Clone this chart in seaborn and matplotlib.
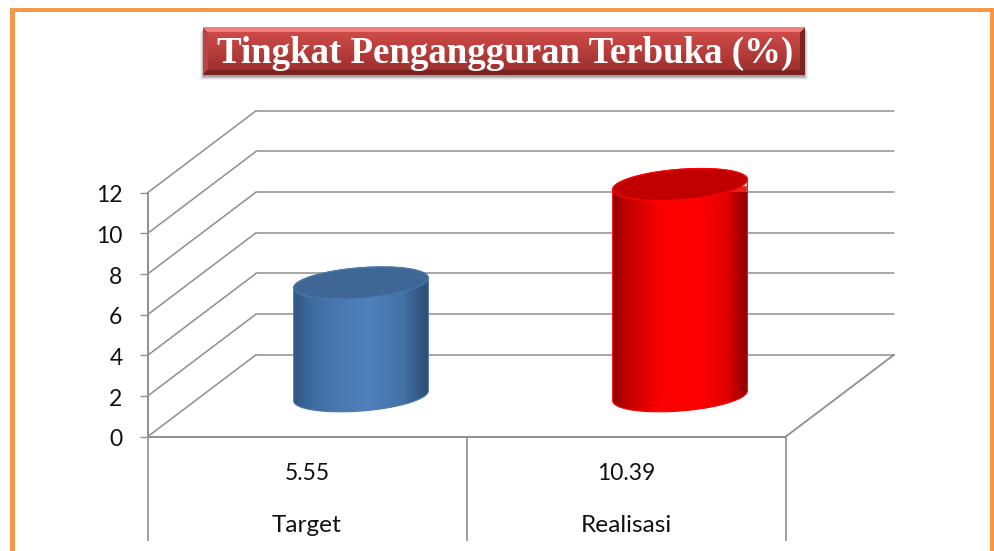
import numpy as np
import pandas as pd
import matplotlib
matplotlib.use("Agg")
import matplotlib.pyplot as plt
import seaborn as sns
from matplotlib.colors import LinearSegmentedColormap
from matplotlib.patches import Polygon, Rectangle
from matplotlib.transforms import ScaledTranslation

categories = ["Target", "Realisasi"]
values = [5.55, 10.39]
value_labels = ["5.55", "10.39"]
y_ticks = [0, 2, 4, 6, 8, 10, 12]
title = "Tingkat Pengangguran Terbuka (%)"

W, H, DPI = 994, 551, 100
sns.set_style("white")
plt.rcParams["font.family"] = ["Lato", "DejaVu Sans"]
GRID = "#8f8f8f"
ORANGE = "#f79646"

fig = plt.figure(figsize=(W / DPI, H / DPI), dpi=DPI, facecolor="white")
ax = fig.add_axes([147.5 / W, 1 - 436.8 / H, 638 / W, 244 / H])
ax.patch.set_alpha(0)

px_x = 638 / 2
px_y = 244 / 12


def shift(dx, dy):
    return ax.transData + ScaledTranslation(dx / DPI, -dy / DPI, fig.dpi_scale_trans)


back = shift(108.5, -82)
mid = shift(54, -41)

# walls and floor
for v in y_ticks:
    ax.plot([-0.5, 1.5], [v, v], transform=back, color=GRID, lw=1.1, zorder=1, clip_on=False)
    ax.plot([-0.5, -0.5 + 108.5 / px_x], [v, v + 82 / px_y], color=GRID, lw=1.1, zorder=1, clip_on=False)
ax.plot([1.5, 1.5 + 108.5 / px_x], [0, 82 / px_y], color=GRID, lw=1.3, zorder=1, clip_on=False)
ax.plot([-0.5, 1.5], [0, 0], color=GRID, lw=1.4, zorder=1, clip_on=False)
ax.plot([-0.5, -0.5], [0, 12], color=GRID, lw=1.4, zorder=1, clip_on=False)
ax.vlines([-0.5, 0.5, 1.5], -104 / px_y, 0, color=GRID, lw=1.2, zorder=1, clip_on=False)

# bars
df = pd.DataFrame({"kategori": categories, "nilai": values})
palette = {"Target": "#4f81bd", "Realisasi": "#ff0000"}
sns.barplot(data=df, x="kategori", y="nilai", hue="kategori", palette=palette,
            width=134 / px_x, legend=False, ax=ax, zorder=2)

grads = [
    [(0, "#2f5683"), (0.12, "#3d6a9e"), (0.35, "#4a79b2"), (0.55, "#4f81bd"), (0.8, "#4472a8"), (1, "#2b4b72")],
    [(0, "#8f0000"), (0.1, "#c00000"), (0.35, "#fb0000"), (0.65, "#ff0000"), (0.85, "#e00000"), (1, "#8a0000")],
]
tops = ["#3f6795", "#c00000"]
edges = ["#4a78ae", "#ff0000"]

a = 64 / px_x
b = 21 / px_x
c = 16 / px_y
t_r = np.arctan2(b, a)


def ell(cx, cy, t):
    return np.column_stack([cx + a * np.cos(t) + b * np.sin(t), cy + c * np.sin(t)])


for i, bar in enumerate(ax.patches[:len(values)]):
    cx = bar.get_x() + bar.get_width() / 2
    val = bar.get_height()
    bar.set_transform(mid)
    low = ell(cx, 0, np.linspace(t_r + np.pi, t_r + 2 * np.pi, 80))
    up = ell(cx, val, np.linspace(t_r, t_r + np.pi, 80))
    body = Polygon(np.vstack([low, up]), closed=True, transform=mid, fc="none",
                   ec=edges[i], lw=0.8, zorder=3.2, clip_on=False)
    ax.add_patch(body)
    bar.set_clip_path(body)
    bar.set_clip_box(None)
    hw = np.hypot(a, b)
    im = ax.imshow(np.linspace(0, 1, 256)[None, :],
                   cmap=LinearSegmentedColormap.from_list("g", grads[i]),
                   extent=[cx - hw, cx + hw, -2, val + 2], aspect="auto", zorder=3,
                   interpolation="bilinear")
    im.set_transform(mid)
    im.set_clip_path(body)
    im.set_clip_box(None)
    ax.add_patch(Polygon(ell(cx, val, np.linspace(0, 2 * np.pi, 160)), closed=True, transform=mid,
                         fc=tops[i], ec=edges[i], lw=0.9, zorder=4, clip_on=False))

ax.set_xlim(-0.5, 1.5)
ax.set_ylim(0, 12)
sns.despine(ax=ax, left=True, bottom=True, top=True, right=True)
ax.set_xlabel("")
ax.set_ylabel("")
ax.set_yticks(y_ticks)
ax.tick_params(axis="y", left=True, length=6, width=1, color=GRID, labelsize=16.5, pad=12, labelcolor="#111111")
for lab in ax.get_yticklabels():
    lab.set_transform(lab.get_transform() + ScaledTranslation(0, -1.2 / DPI, fig.dpi_scale_trans))
ax.set_xticks(range(len(categories)))
ax.set_xticklabels(categories)
ax.tick_params(axis="x", bottom=False, labelsize=17.6, pad=52.5, labelcolor="#111111")
for i, lab in enumerate(value_labels):
    ax.annotate(lab, xy=(i, 0), xytext=(0, -37 * 72 / DPI), textcoords="offset points",
                ha="center", va="center", fontsize=16.5, color="#111111", annotation_clip=False)

# orange frame (left, right, top; open at the bottom)
for x0, y0, w, h in [(10, 8, 5, H - 8), (990, 8, 4, H - 8), (10, 8, 984, 3.5)]:
    fig.add_artist(Rectangle((x0 / W, 1 - (y0 + h) / H), w / W, h / H, transform=fig.transFigure,
                             fc=ORANGE, ec="none"))

# title plate
for k, al in enumerate([0.05, 0.08, 0.12, 0.16]):
    g = 4 - k
    fig.add_artist(Rectangle(((203 - g + 1) / W, 1 - (76 + g) / H), (602 + 2 * g - 2) / W, 48 / H,
                             transform=fig.transFigure, fc="black", alpha=al, ec="none", zorder=-1))
tx = fig.add_axes([203 / W, 1 - 75 / H, 602 / W, 48 / H])
tx.axis("off")
nx, ny = 602, 48
yy = np.linspace(0, 1, ny)
base = np.outer(1 - yy, np.array([0xd4, 0x4e, 0x4c])) + np.outer(yy, np.array([0x9b, 0x2e, 0x2c]))
rgb = np.repeat(base[:, None, :], nx, axis=1)
bev = 5
for row in range(ny):
    for col in [*range(bev), *range(nx - bev, nx)]:
        d = min(col, nx - 1 - col)
        if row >= d and row < ny - d:
            rgb[row, col] = (0xb8, 0x45, 0x44) if col < bev else (0x7c, 0x24, 0x22)
    if row < bev:
        rgb[row, row:nx - row] = (0xf0, 0x80, 0x7e)
    if row >= ny - bev:
        d = ny - 1 - row
        rgb[row, d:nx - d] = (0x7a, 0x22, 0x20)
tx.imshow(rgb.astype(np.uint8), aspect="auto", interpolation="bilinear")
fig.text(505 / W, 1 - 53 / H, title, ha="center", va="center", color="white", fontsize=26.6,
         fontweight="bold", family=["Liberation Serif"])

fig.savefig("out.png", dpi=DPI)
